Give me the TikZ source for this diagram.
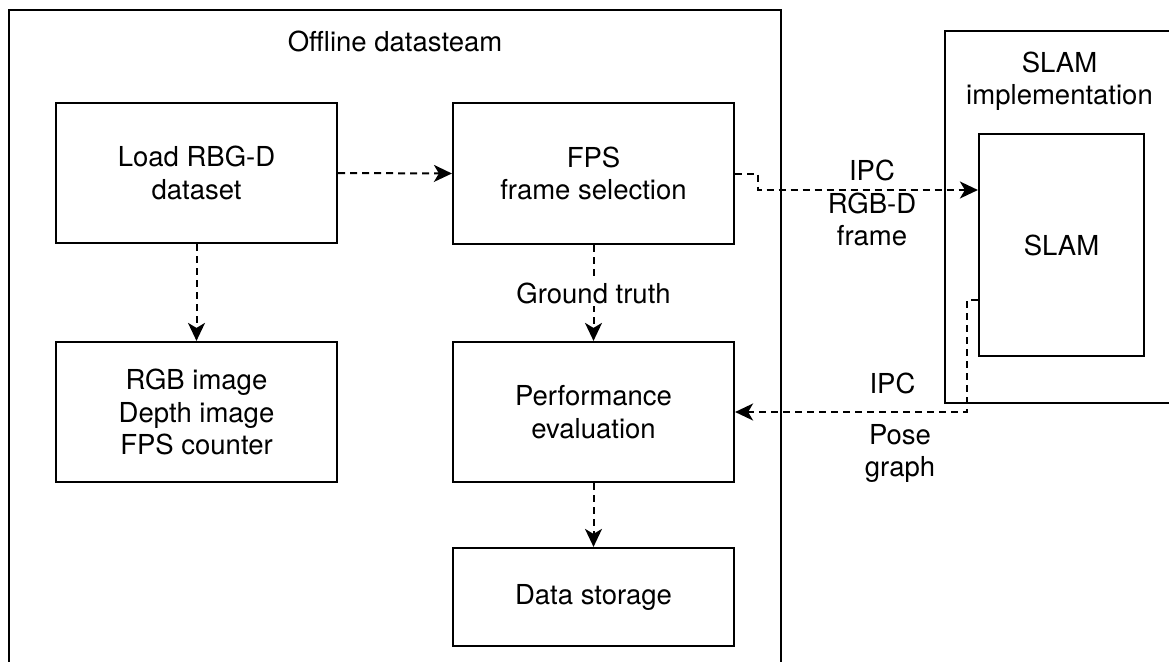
\documentclass[tikz,border=0pt]{standalone}
\usepackage{fontspec}
\setmainfont{TeX Gyre Heros}
\usetikzlibrary{arrows.meta}
\tikzset{
  box/.style={draw, line width=2.2pt, minimum width=281pt, align=center, inner sep=0pt},
  frame/.style={draw, line width=2.2pt, inner sep=0pt},
  flow/.style={line width=2pt, dash pattern=on 7pt off 5pt,
    -{Stealth[length=18pt,width=17pt,inset=5pt]}},
  txt/.style={align=center, inner sep=0pt},
}
\begin{document}
\begin{tikzpicture}[x=1pt,y=-1pt,font=\fontsize{27.5}{32.5}\selectfont]
\useasboundingbox (0,0) rectangle (1169,661);
\clip (0,0) rectangle (1169,661);

% containers
\node[frame, minimum width=772pt, minimum height=690pt] (offline) at (395,355) {};
\node[txt, anchor=base] (offtitle) at (395,52) {Offline datasteam};
\node[frame, minimum width=235pt, minimum height=372pt] (impl) at (1062.5,217) {};
\node[txt] (impltitle) at (1059.5,81) {SLAM\\implementation};
\node[frame, minimum width=165pt, minimum height=222pt] (slam) at (1061.5,245) {SLAM};

% processing steps
\node[box, minimum height=140pt] (load) at (196.5,173) {Load RBG-D\\dataset};
\node[box, minimum height=141pt] (fps)  at (593.5,173.5) {FPS\\frame selection};
\node[box, minimum height=140pt] (rgb)  at (196.5,412) {RGB image\\Depth image\\FPS counter};
\node[box, minimum height=140pt] (perf) at (593.5,412) {Performance\\evaluation};
\node[box, minimum height=98pt]  (data) at (593.5,597) {Data storage};

% connectors
\draw[flow] (load.east) -- (fps.west);
\draw[flow] (load.south) -- (rgb.north);
\draw[flow] (fps.south) -- node[fill=white, inner sep=2pt] (gt) {Ground truth} (perf.north);
\draw[flow] (perf.south) -- (data.north);
\draw[flow] (fps.east) -- ++(23,0) |- ([yshift=55pt]slam.west);
\draw[flow] ([yshift=-55pt]slam.west) -- ++(-11,0) |- (perf.east);

% connector labels
\node[txt] (ipcout) at (872,203) {IPC\\RGB-D\\frame};
\node[txt, anchor=base] (ipcin) at (892.5,393) {IPC};
\node[txt] (pose) at (900,453.5) {Pose\\graph};
\end{tikzpicture}
\end{document}
